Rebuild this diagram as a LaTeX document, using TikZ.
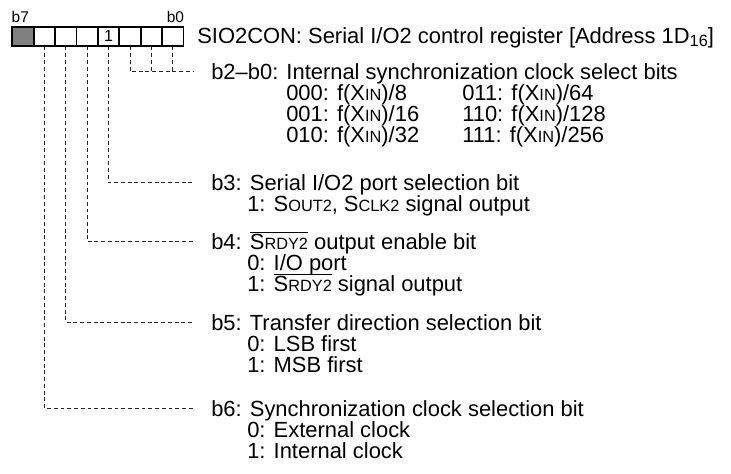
\documentclass[tikz,border=0pt]{standalone}
\usepackage{fontspec}
\setmainfont{Liberation Sans}
\usetikzlibrary{positioning}

\newcommand\lowcaps[1]{{\fontsize{11.6}{12}\selectfont #1}}

\begin{document}
\begin{tikzpicture}[
    x=0.25mm, y=-0.25mm,
    every node/.style={font=\fontsize{15.6}{18}\selectfont},
    cell/.style={draw, line width=1.2pt, minimum width=5.35mm, minimum height=4.75mm, inner sep=0pt, font=\fontsize{11.5}{12}\selectfont},
    tag/.style={inner sep=0pt, font=\fontsize{11}{12}\selectfont},
    hdr/.style={anchor=west, inner sep=0pt, text height=11pt, text depth=0pt},
    opt/.style={hdr},
    leader/.style={draw=black!85, line width=0.6pt, dash pattern=on 2.8pt off 2pt},
]
\useasboundingbox (0,0) rectangle (731,473);

% --- Register ---
\node[cell, fill=black!50] (c7) at (23.0, 36.2) {};
\node[cell] (c6) at (44.4, 36.2) {};
\node[cell] (c5) at (65.8, 36.2) {};
\node[cell] (c4) at (87.2, 36.2) {};
\node[cell] (c3) at (108.6, 36.2) {1};
\node[cell] (c2) at (130.0, 36.2) {};
\node[cell] (c1) at (151.4, 36.2) {};
\node[cell] (c0) at (172.8, 36.2) {};
\node[tag, above right=2pt and 0pt of c7.north west] (lb7) {b7};
\node[tag, above left=2pt and 0pt of c0.north east] (lb0) {b0};

% --- Title ---
\node[hdr] (title) at (197, 36.2) {SIO2CON: Serial I/O2 control register [Address 1D\raisebox{-1.5pt}{\lowcaps{16}}]};

% --- Bit descriptions ---
\node[hdr] (hb20) at (211, 71.7) {b2--b0: Internal synchronization clock select bits};
\node[opt] (s000) at (286, 92.7) {000: f(X\lowcaps{IN})/8};
\node[opt] (s001) at (286, 113.7) {001: f(X\lowcaps{IN})/16};
\node[opt] (s010) at (286, 134.7) {010: f(X\lowcaps{IN})/32};
\node[opt] (s011) at (462, 92.7) {011: f(X\lowcaps{IN})/64};
\node[opt] (s110) at (462, 113.7) {110: f(X\lowcaps{IN})/128};
\node[opt] (s111) at (462, 134.7) {111: f(X\lowcaps{IN})/256};

\node[hdr] (hb3) at (211, 182.7) {b3: Serial I/O2 port selection bit};
\node[opt] (s3a) at (247, 203.7) {1: S\lowcaps{OUT2}, S\lowcaps{CLK2} signal output};

\node[hdr] (hb4) at (211, 241.7) {b4: $\overline{\mbox{S\lowcaps{RDY2}}}$ output enable bit};
\node[opt] (s4a) at (247, 262.7) {0: I/O port};
\node[opt] (s4b) at (247, 283.7) {1: $\overline{\mbox{S\lowcaps{RDY2}}}$ signal output};

\node[hdr] (hb5) at (211, 322.3) {b5: Transfer direction selection bit};
\node[opt] (s5a) at (247, 343.3) {0: LSB first};
\node[opt] (s5b) at (247, 364.3) {1: MSB first};

\node[hdr] (hb6) at (211, 408.3) {b6: Synchronization clock selection bit};
\node[opt] (s6a) at (247, 429.3) {0: External clock};
\node[opt] (s6b) at (247, 450.3) {1: Internal clock};

% --- Leaders ---
\draw[leader, shorten >=12pt] (c2.south) |- (hb20.west);
\draw[leader] (c1.south) -- (c1.south |- hb20.west);
\draw[leader] (c0.south) -- (c0.south |- hb20.west);
\draw[leader, shorten >=12pt] (c3.south) |- (hb3.west);
\draw[leader, shorten >=12pt] (c4.south) |- (hb4.west);
\draw[leader, shorten >=12pt] (c5.south) |- (hb5.west);
\draw[leader, shorten >=12pt] (c6.south) |- (hb6.west);

\end{tikzpicture}
\end{document}
